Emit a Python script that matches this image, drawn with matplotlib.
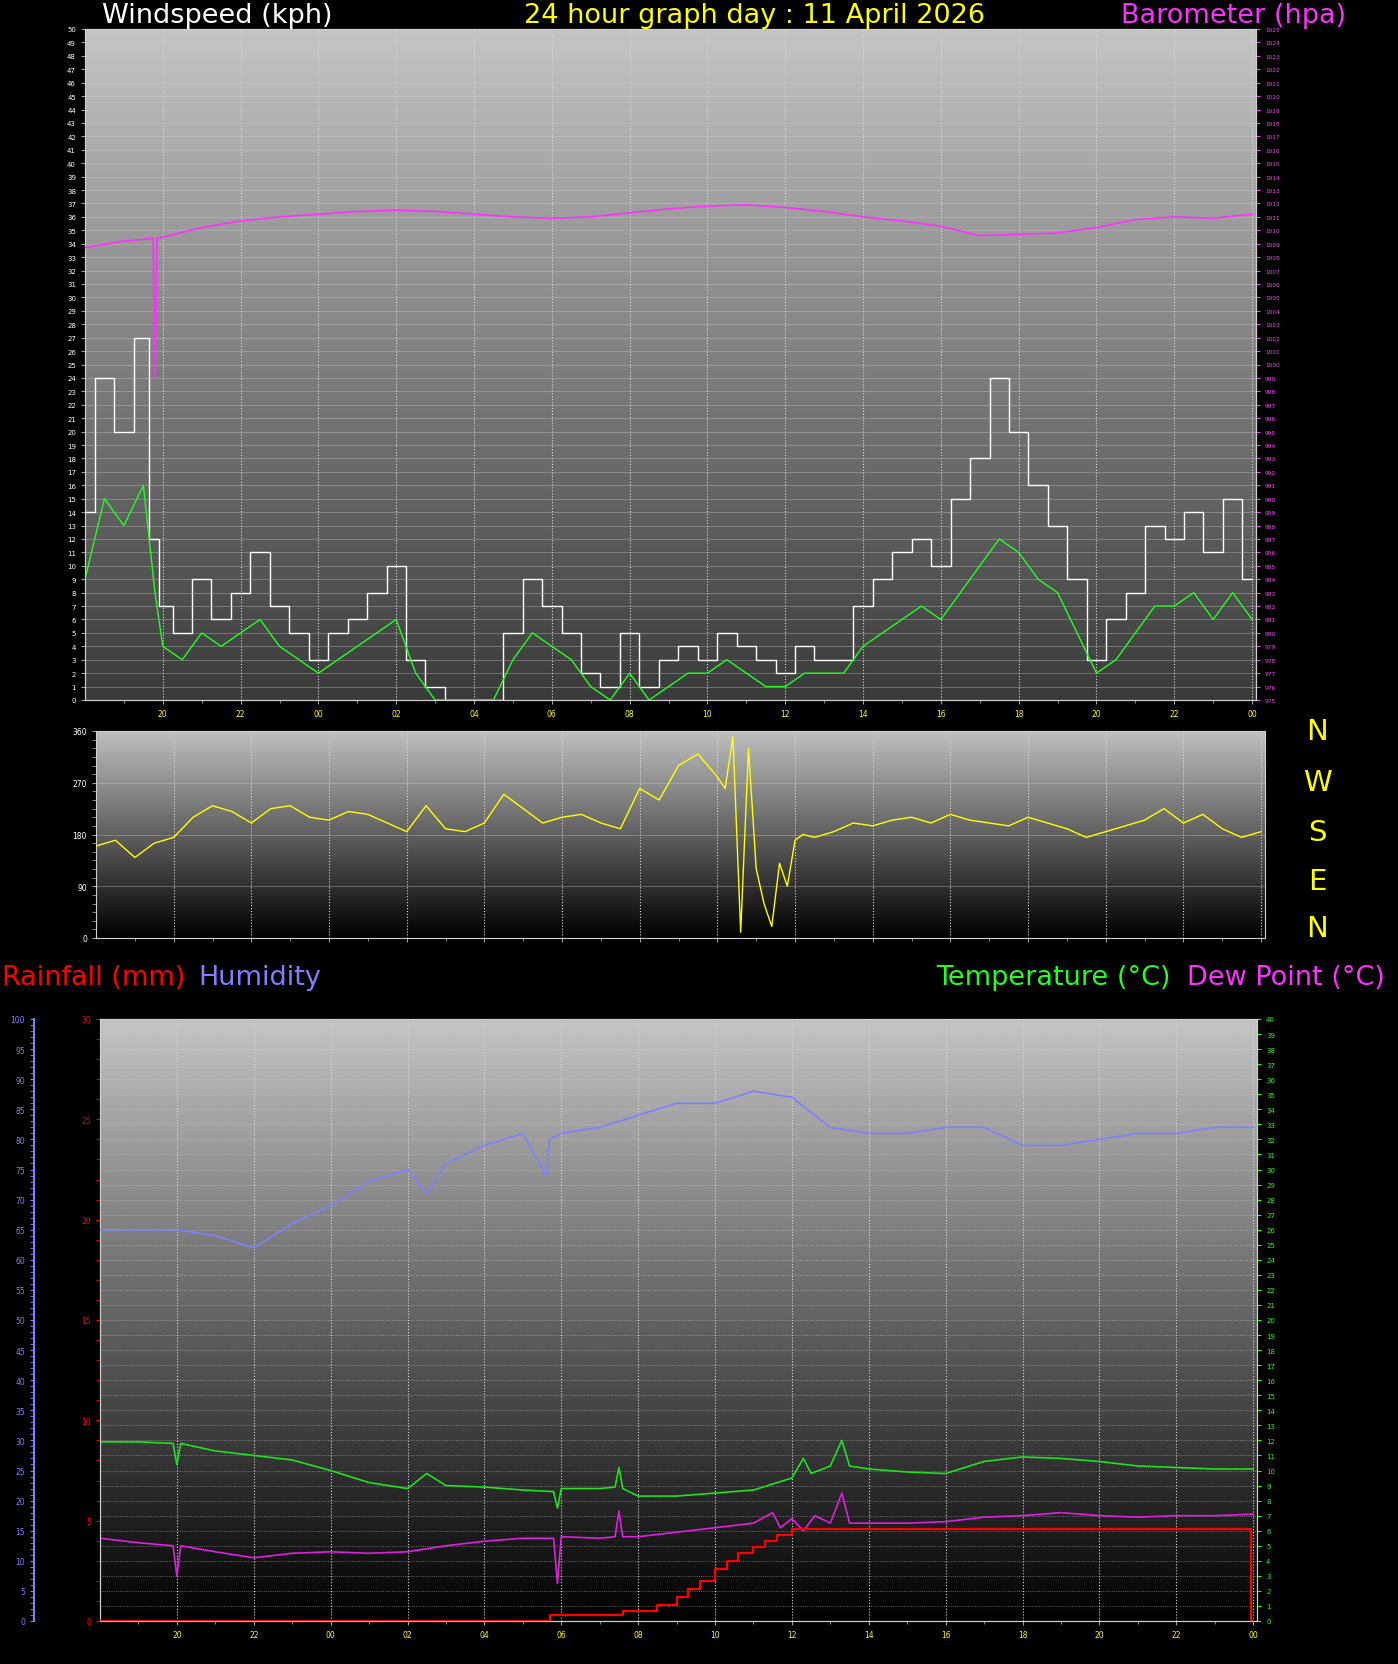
import numpy as np
import matplotlib
matplotlib.use("Agg")
import matplotlib.pyplot as plt
from matplotlib.colors import LinearSegmentedColormap

# ---------------- data ----------------
baro_t = [18,19,19.75,19.8,19.85,20,21,22,23,24,25,26,27,28,29,30,31,32,33,34,35,36,37,38,39,40,41,42,43,44,45,46,47,48]
baro_v = [1008.7,1009.2,1009.4,999.0,1009.4,1009.5,1010.2,1010.7,1011.0,1011.2,1011.4,1011.5,1011.4,1011.2,1011.0,1010.9,1011.0,1011.3,1011.6,1011.8,1011.9,1011.7,1011.4,1011.0,1010.7,1010.3,1009.6,1009.7,1009.8,1010.2,1010.8,1011.0,1010.9,1011.2]

wind_t = [18.0,18.5,19.0,19.5,19.8,20.0,20.5,21,21.5,22,22.5,23,23.5,24,24.5,25,25.5,26,26.5,27,27.5,28,28.5,29,29.5,30,30.5,31,31.5,32,32.5,33,33.5,34,34.5,35,35.5,36,36.5,37,37.5,38,38.5,39,39.5,40,40.5,41,41.5,42,42.5,43,43.5,44,44.5,45,45.5,46,46.5,47,47.5,48]
gust_v = [14,24,20,27,12,7,5,9,6,8,11,7,5,3,5,6,8,10,3,1,0,0,0,5,9,7,5,2,1,5,1,3,4,3,5,4,3,2,4,3,3,7,9,11,12,10,15,18,24,20,16,13,9,3,6,8,13,12,14,11,15,9]
avg_v  = [9,15,13,16,8,4,3,5,4,5,6,4,3,2,3,4,5,6,2,0,0,0,0,3,5,4,3,1,0,2,0,1,2,2,3,2,1,1,2,2,2,4,5,6,7,6,8,10,12,11,9,8,5,2,3,5,7,7,8,6,8,6]

dir_t = [18,18.5,19,19.5,20,20.5,21,21.5,22,22.5,23,23.5,24,24.5,25,25.5,26,26.5,27,27.5,28,28.5,29,29.5,30,30.5,31,31.5,32,32.5,33,33.5,34,34.2,34.4,34.6,34.8,35,35.2,35.4,35.6,35.8,36,36.2,36.5,37,37.5,38,38.5,39,39.5,40,40.5,41,41.5,42,42.5,43,43.5,44,44.5,45,45.5,46,46.5,47,47.5,48]
dir_v = [160,170,140,165,175,210,230,220,200,225,230,210,205,220,215,200,185,230,190,185,200,250,225,200,210,215,200,190,260,240,300,320,280,260,350,10,330,120,60,20,130,90,170,180,175,185,200,195,205,210,200,215,205,200,195,210,200,190,175,185,195,205,225,200,215,190,175,185]

hum_t = [18,19,20,21,22,23,24,25,26,26.5,26.7,27,28,29,29.6,29.7,30,31,32,33,34,35,36,37,38,39,40,41,42,43,44,45,46,47,48]
hum_v = [65,65,65,64,62,66,69,73,75,71,73,76,79,81,74,80,81,82,84,86,86,88,87,82,81,81,82,82,79,79,80,81,81,82,82]

temp_t = [18,19,19.9,20,20.1,21,22,23,24,25,26,26.5,27,28,29,29.8,29.9,30,31,31.4,31.5,31.6,32,33,34,35,36,36.3,36.5,37,37.3,37.5,38,39,40,41,42,43,44,45,46,47,48]
temp_v = [11.9,11.9,11.8,10.4,11.8,11.3,11.0,10.7,10.0,9.2,8.8,9.8,9.0,8.9,8.7,8.6,7.5,8.8,8.8,8.9,10.2,8.8,8.3,8.3,8.5,8.7,9.5,10.8,9.8,10.3,12.0,10.3,10.1,9.9,9.8,10.6,10.9,10.8,10.6,10.3,10.2,10.1,10.1]

dew_t = [18,19,19.9,20,20.1,21,22,23,24,25,26,27,28,29,29.8,29.9,30,31,31.4,31.5,31.6,32,33,34,35,35.5,35.7,36,36.3,36.6,37,37.3,37.5,38,39,40,41,42,43,44,45,46,47,48]
dew_v = [5.5,5.2,5.0,3.0,5.0,4.6,4.2,4.5,4.6,4.5,4.6,5.0,5.3,5.5,5.5,2.5,5.6,5.5,5.6,7.3,5.6,5.6,5.9,6.2,6.5,7.2,6.2,6.8,6.0,7.0,6.5,8.5,6.5,6.5,6.5,6.6,6.9,7.0,7.2,7.0,6.9,7.0,7.0,7.1]

rain_t = [18,29.6,29.7,31.5,31.6,32.4,32.5,33.0,33.3,33.6,34.0,34.3,34.6,35.0,35.3,35.6,36.0,47.9,47.95,48]
rain_v = [0,0,0.3,0.3,0.5,0.5,0.8,1.2,1.6,2.0,2.6,3.0,3.4,3.7,4.0,4.3,4.6,4.6,0,0]

hour_ticks = [20,22,24,26,28,30,32,34,36,38,40,42,44,46,48]
hour_labels = ["20","22","00","02","04","06","08","10","12","14","16","18","20","22","00"]

# ---------------- figure ----------------
W, H = 1398, 1665
fig = plt.figure(figsize=(W/100, H/100), dpi=100, facecolor="black")

def add_ax(x0, y0, x1, y1):
    return fig.add_axes([x0/W, 1-y1/H, (x1-x0)/W, (y1-y0)/H])

def gradient(ax, top, bot):
    cmap = LinearSegmentedColormap.from_list("g", [bot, top])
    g = np.linspace(0, 1, 256).reshape(-1, 1)
    ax.imshow(g, cmap=cmap, aspect="auto", extent=[0, 1, 0, 1], origin="lower",
              transform=ax.transAxes, zorder=0)

def style_time(ax):
    ax.set_xlim(18, 48.1)
    ax.set_xticks(hour_ticks)
    ax.set_xticklabels(hour_labels)
    ax.set_xticks(np.arange(19, 48, 1), minor=True)
    ax.tick_params(axis="x", colors="#a0a0a0", labelcolor="yellow", labelsize=5.5, length=3)
    ax.tick_params(axis="x", which="minor", colors="#a0a0a0", length=2)
    for s in ax.spines.values():
        s.set_color("#d0d0d0")
    ax.grid(axis="x", color="#d8d8d8", linestyle=":", linewidth=0.8)

TS = 19.5

# ---- top panel ----
ax1 = add_ax(85, 30, 1256, 701)
gradient(ax1, "#c4c4c4", "#3a3a3a")
ax1.set_ylim(0, 50)
ax1.set_yticks(np.arange(0, 51, 1))
ax1.tick_params(axis="y", colors="#a0a0a0", labelcolor="white", labelsize=5, length=3)
ax1.grid(axis="y", color="#d0d0d0", linestyle="-", linewidth=0.4, alpha=0.6)
style_time(ax1)
ax1.plot(wind_t, gust_v, color="white", lw=1.0, zorder=3, drawstyle="steps-mid")
ax1.plot(wind_t, avg_v, color="#20ff20", lw=1.0, zorder=4)
ax1b = ax1.twinx()
ax1b.set_ylim(975, 1025)
ax1b.set_yticks(np.arange(975, 1026, 1))
ax1b.tick_params(axis="y", colors="#ff40ff", labelcolor="#ff40ff", labelsize=4.2, length=3)
ax1b.plot(baro_t, baro_v, color="#ff30ff", lw=1.2, zorder=5)
for s in ax1b.spines.values():
    s.set_color("#d0d0d0")

fig.text(102/W, 1-16/H, "Windspeed (kph)", color="white", fontsize=TS, va="center")
fig.text(755/W, 1-16/H, "24 hour graph day : 11 April 2026", color="yellow", fontsize=TS, va="center", ha="center")
fig.text(1346/W, 1-16/H, "Barometer (hpa)", color="#ff30ff", fontsize=TS, va="center", ha="right")

# ---- direction panel ----
ax2 = add_ax(96, 732, 1265, 939)
gradient(ax2, "#c0c0c0", "#000000")
ax2.set_ylim(0, 360)
ax2.set_yticks([0, 90, 180, 270, 360])
ax2.set_yticks(np.arange(0, 361, 15), minor=True)
ax2.tick_params(axis="y", which="both", colors="#a0a0a0", labelcolor="white", labelsize=5.5, length=3)
ax2.grid(axis="y", color="#d0d0d0", linestyle="-", linewidth=0.4, alpha=0.6)
style_time(ax2)
ax2.tick_params(axis="x", labelbottom=False)
ax2.plot(dir_t, dir_v, color="yellow", lw=1.0, zorder=3)
for lab, y in zip(["N", "W", "S", "E", "N"], [732, 783, 833, 882, 929]):
    fig.text(1317/W, 1-y/H, lab, color="yellow", fontsize=21, va="center", ha="center")

# ---- bottom panel ----
fig.text(2/W, 1-978/H, "Rainfall (mm)", color="red", fontsize=TS, va="center")
fig.text(198/W, 1-978/H, "Humidity", color="#7f7fff", fontsize=TS, va="center")
fig.text(936/W, 1-978/H, "Temperature (°C)", color="#20ff20", fontsize=TS, va="center")
fig.text(1385/W, 1-978/H, "Dew Point (°C)", color="#ff30ff", fontsize=TS, va="center", ha="right")

ax3 = add_ax(100, 1020, 1257, 1622)
gradient(ax3, "#c4c4c4", "#000000")
ax3.set_ylim(0, 40)
ax3.grid(axis="y", color="#d0d0d0", linestyle=":", linewidth=0.6, alpha=0.6)
style_time(ax3)

ax3r = ax3.twinx()
ax3h = ax3.twinx()

ax3.yaxis.tick_right()
ax3.set_yticks(np.arange(0, 41, 1))
ax3.tick_params(axis="y", colors="#20ff20", labelcolor="#20ff20", labelsize=5, length=3,
                left=False, labelleft=False, right=True, labelright=True)
ax3.plot(temp_t, temp_v, color="#20e020", lw=1.2, zorder=4)
ax3.plot(dew_t, dew_v, color="#e020e0", lw=1.2, zorder=4)

ax3r.set_ylim(0, 30)
ax3r.set_yticks(np.arange(0, 31, 5))
ax3r.set_yticks(np.arange(0, 31, 1), minor=True)
ax3r.tick_params(axis="y", which="both", colors="red", labelcolor="red", labelsize=5.5, length=3,
                 left=True, labelleft=True, right=False, labelright=False)
ax3r.step(rain_t, rain_v, where="post", color="red", lw=1.6, zorder=5)
for s in ax3r.spines.values():
    s.set_color("#d0d0d0")

ax3h.spines["left"].set_position(("axes", -0.057))
ax3h.spines["left"].set_visible(True)
ax3h.spines["left"].set_color("#7f7fff")
ax3h.spines["left"].set_linewidth(1.5)
for k in ("right", "top", "bottom"):
    ax3h.spines[k].set_visible(False)
ax3h.set_ylim(0, 100)
ax3h.set_yticks(np.arange(0, 101, 5))
ax3h.set_yticks(np.arange(0, 101, 1), minor=True)
ax3h.tick_params(axis="y", which="both", colors="#7f7fff", labelcolor="#7f7fff", labelsize=5.5, length=3,
                 left=True, labelleft=True, right=False, labelright=False)
ax3h.plot(hum_t, hum_v, color="#8080ff", lw=1.2, zorder=4)

fig.savefig("out.png", dpi=100, facecolor="black")
